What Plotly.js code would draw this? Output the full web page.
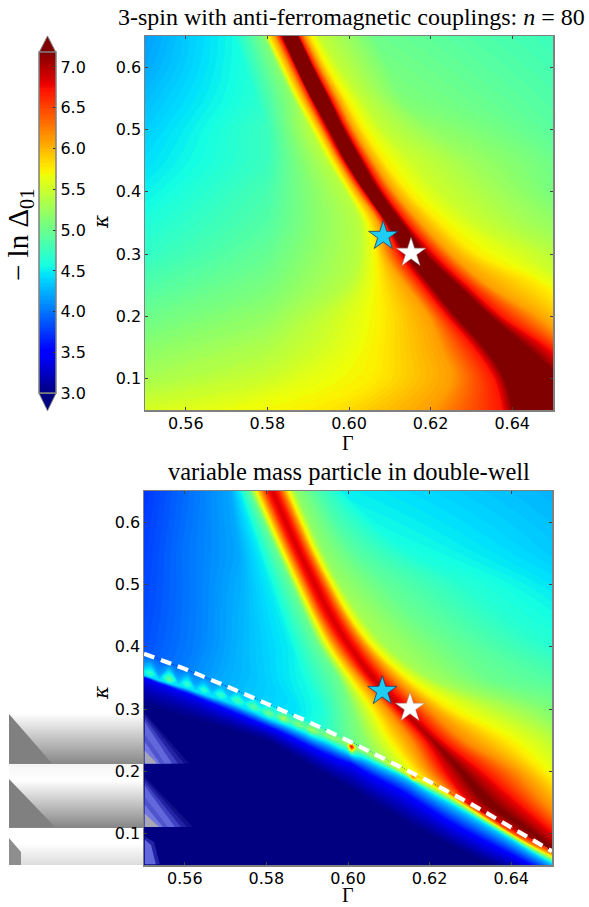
<!DOCTYPE html>
<html><head><meta charset="utf-8">
<script src="https://cdn.plot.ly/plotly-3.0.1.min.js"></script>
<style>html,body{margin:0;padding:0;background:#fff}#g{width:589px;height:907px}</style>
</head><body><div id="g"></div>
<script>
// ---------- data ----------
const zRange = [3, 7.18];
const colorbarTicks = [3, 3.5, 4, 4.5, 5, 5.5, 6, 6.5, 7];
const xTicks = [0.56, 0.58, 0.60, 0.62, 0.64];
const yTicks = [0.1, 0.2, 0.3, 0.4, 0.5, 0.6];
const starBlue = {gamma: 0.6084, kappa: 0.329};
const starWhite = {gamma: 0.6152, kappa: 0.302};

// top panel: each row holds the Gamma position of a colour feature and its value
const topKappa = [0.651,0.6,0.55,0.5,0.45,0.4,0.35,0.3,0.25,0.2,0.15,0.1,0.049];
const topGamma = [
 [.549,.5716,.579,.5803,.5817,.5831,.5838,.5873,.5877,.5891,.5905,.5928,.6066,.651],
 [.549,.5745,.5826,.5840,.5854,.5868,.5873,.5909,.5915,.5930,.5945,.5975,.6100,.651],
 [.549,.5770,.5862,.5877,.5891,.5905,.5910,.5948,.5955,.5972,.5990,.6030,.6130,.651],
 [.549,.5800,.5905,.5919,.5932,.5944,.5954,.5985,.5994,.6011,.6034,.6085,.6200,.651],
 [.549,.5800,.5945,.5960,.5973,.5986,.5993,.6028,.6038,.6058,.6085,.6150,.6300,.651],
 [.549,.5800,.5992,.6005,.6020,.6035,.6042,.6072,.6085,.6110,.6145,.6220,.6350,.651],
 [.549,.5800,.6025,.6050,.6072,.6088,.6094,.6128,.6142,.6175,.6225,.6310,.6430,.651],
 [.549,.5800,.6025,.6068,.6090,.6125,.6143,.6183,.6210,.6250,.6315,.6420,.6490,.6510],
 [.549,.5800,.6000,.6076,.6140,.6180,.6204,.6262,.6290,.6340,.6470,.6560,.6600,.6640],
 [.549,.5800,.5940,.6083,.6195,.6240,.6267,.6342,.6375,.6463,.6560,.6650,.6700,.6750],
 [.549,.5800,.5950,.6075,.6225,.6305,.6337,.6428,.6490,.6560,.6640,.6700,.6750,.6800],
 [.549,.5800,.5900,.6059,.6250,.6355,.6386,.6520,.6580,.6680,.6720,.6760,.6800,.6840],
 [.549,.5700,.5850,.5950,.6200,.6375,.6407,.6700,.6780,.6820,.6860,.6900,.6940,.6980]
];
const topZ = [
 [4.15,4.55,5.1,5.75,6.1,6.7,7.25,7.25,6.7,6.1,5.75,5.45,5.0,4.75],
 [4.2,4.6,5.15,5.75,6.1,6.7,7.25,7.25,6.7,6.1,5.75,5.45,5.05,4.8],
 [4.28,4.65,5.2,5.75,6.1,6.7,7.25,7.25,6.7,6.1,5.75,5.45,5.1,4.85],
 [4.35,4.75,5.4,5.75,6.1,6.7,7.25,7.25,6.7,6.1,5.75,5.45,5.2,4.9],
 [4.42,4.75,5.4,5.75,6.1,6.7,7.25,7.25,6.7,6.1,5.75,5.5,5.25,5.0],
 [4.5,4.82,5.4,5.75,6.1,6.7,7.25,7.25,6.7,6.1,5.75,5.5,5.3,5.05],
 [4.6,4.88,5.4,5.75,6.1,6.7,7.25,7.25,6.7,6.1,5.75,5.5,5.3,5.2],
 [4.7,4.97,5.4,5.75,6.1,6.7,7.25,7.25,6.7,6.1,5.75,5.55,5.42,5.4],
 [4.85,5.07,5.4,5.75,6.1,6.7,7.25,7.25,6.7,6.1,5.75,5.45,5.3,5.2],
 [5.0,5.2,5.45,5.75,6.1,6.7,7.25,7.25,6.7,6.1,5.75,5.45,5.3,5.2],
 [5.15,5.35,5.55,5.75,6.1,6.7,7.25,7.25,6.7,6.1,5.75,5.45,5.3,5.2],
 [5.3,5.5,5.62,5.75,6.1,6.7,7.25,7.25,6.7,6.1,5.75,5.45,5.3,5.2],
 [5.55,5.66,5.72,5.78,6.1,6.7,7.25,7.25,6.7,6.1,5.75,5.45,5.3,5.2]
];

// bottom panel, upper field
const botKappa = [0.651,0.6,0.55,0.5,0.45,0.4,0.35,0.3,0.25,0.2,0.15,0.1,0.049];
const botGamma = [
 [.549,.560,.5711,.5735,.5760,.5776,.5788,.5802,.5814,.5826,.5841,.5852,.5870,.5924,.5988,.651],
 [.549,.560,.5720,.5760,.5794,.5810,.5822,.5836,.5848,.5860,.5875,.5886,.5904,.5970,.6060,.651],
 [.549,.560,.5730,.5785,.5828,.5844,.5856,.5870,.5882,.5894,.5909,.5920,.5940,.6020,.6150,.651],
 [.549,.562,.5740,.5810,.5862,.5879,.5892,.5906,.5919,.5932,.5948,.5960,.5980,.6090,.6280,.651],
 [.549,.563,.5748,.5835,.5895,.5915,.5928,.5944,.5958,.5972,.5990,.6003,.6030,.6150,.6380,.651],
 [.549,.563,.5755,.5860,.5930,.5955,.5972,.5992,.6005,.6020,.6042,.6060,.6095,.6250,.6500,.6510],
 [.549,.568,.5790,.5890,.5975,.6007,.6030,.6048,.6062,.6080,.6110,.6142,.6200,.6340,.6520,.6530],
 [.549,.570,.5870,.5935,.6010,.6062,.6098,.6118,.6132,.6155,.6195,.6250,.6365,.6450,.6500,.6530],
 [.549,.570,.5900,.5960,.6040,.6107,.6156,.6187,.6207,.6232,.6282,.6389,.6488,.6520,.6540,.6560],
 [.549,.575,.5950,.6050,.6110,.6166,.6201,.6234,.6278,.6332,.6405,.6479,.6540,.6560,.6580,.6600],
 [.549,.580,.6000,.6100,.6200,.6250,.6285,.6300,.6345,.6414,.6479,.6560,.6600,.6620,.6640,.6660],
 [.549,.580,.6000,.6100,.6200,.6300,.6370,.6400,.6455,.6510,.6560,.6640,.6680,.6700,.6720,.6740],
 [.549,.580,.6000,.6100,.6200,.6300,.6400,.6450,.6550,.6600,.6650,.6700,.6750,.6800,.6850,.6900]
];
const botZ = [
 [3.72,3.95,4.2,4.5,5.0,5.75,6.2,6.7,6.85,6.7,6.2,5.75,5.2,4.85,4.5,4.25],
 [3.74,3.97,4.2,4.5,5.0,5.75,6.2,6.7,6.85,6.7,6.2,5.75,5.2,4.85,4.55,4.3],
 [3.76,3.99,4.2,4.5,5.0,5.75,6.2,6.7,6.85,6.7,6.2,5.75,5.2,4.9,4.6,4.35],
 [3.78,4.02,4.25,4.5,5.0,5.75,6.2,6.7,6.85,6.7,6.2,5.75,5.25,4.95,4.65,4.45],
 [3.8,4.04,4.28,4.5,5.0,5.75,6.2,6.7,6.85,6.7,6.2,5.75,5.3,5.0,4.65,4.55],
 [3.83,4.05,4.3,4.5,5.0,5.75,6.2,6.7,6.85,6.7,6.2,5.75,5.3,5.0,4.65,4.65],
 [3.88,4.2,4.35,4.55,5.0,5.75,6.2,6.7,6.9,6.7,6.2,5.75,5.3,5.0,4.85,4.85],
 [4.1,4.3,4.45,4.6,5.1,5.75,6.2,6.7,6.95,6.7,6.2,5.75,5.4,5.2,5.1,5.05],
 [4.2,4.4,4.6,4.75,5.15,5.75,6.2,6.7,7.05,6.7,6.2,5.75,5.45,5.35,5.3,5.3],
 [4.3,4.5,4.7,4.9,5.3,5.75,6.2,6.7,7.2,6.7,6.2,5.75,5.5,5.4,5.3,5.3],
 [4.5,4.7,5.0,5.2,5.5,5.8,6.3,6.8,7.25,6.75,6.2,5.75,5.5,5.4,5.3,5.3],
 [4.5,4.7,5.0,5.2,5.5,5.9,6.4,6.8,7.2,6.7,6.2,5.75,5.5,5.4,5.3,5.3],
 [4.5,4.7,5.0,5.2,5.5,5.9,6.4,6.8,7.2,6.7,6.2,5.75,5.5,5.4,5.3,5.3]
];

// bottom panel, the shelf below the dashed curve, read column by column
const bandGamma = [.549,.5515,.5538,.5562,.5584,.5606,.5626,.5647,.5667,.5688,.5708,.5729,.5748,.5768,.5786,.5805,.5823,.5841,.5860,.5878,.5895,.5911,.5933,.5956,.5980,.5998,.6009,.6020,.6035,.6075,.6120,.6148,.6159,.6170,.6200,.6250,.6307,.6350,.6400,.6450,.6511];
const bandTopKappa = [.3915,.3853,.3797,.3738,.3685,.3630,.3576,.3519,.3464,.3407,.3351,.3292,.3238,.3181,.3130,.3076,.3025,.2974,.2920,.2869,.2820,.2772,.2703,.2632,.2557,.2502,.2467,.2430,.2382,.2252,.2104,.2010,.1973,.1935,.1836,.1660,.1459,.1298,.1110,.0915,.0681];
const bandCrestKappa = [.3630,.3575,.3525,.3479,.3440,.3399,.3353,.3307,.3267,.3227,.3182,.3136,.3087,.3039,.2986,.2933,.2893,.2853,.2805,.2757,.2712,.2666,.2612,.2558,.2480,.2430,.2397,.2365,.2320,.2190,.2045,.1945,.1900,.1860,.1760,.1590,.1382,.1220,.1030,.0835,.0610];
const bandEdgeKappa = [.3570,.3515,.3465,.3415,.3375,.3335,.3285,.3240,.3197,.3155,.3108,.3060,.3008,.2957,.2902,.2848,.2803,.2760,.2710,.2660,.2612,.2560,.2505,.2445,.2365,.2315,.2265,.2240,.2220,.2100,.1970,.1880,.1836,.1790,.1670,.1490,.1276,.1110,.0915,.0715,.0490];
const bandBlueKappa = [.3520,.3468,.3400,.3350,.3290,.3240,.3190,.3130,.3075,.3020,.2965,.2905,.2855,.2800,.2750,.2700,.2650,.2595,.2535,.2475,.2420,.2365,.2295,.2230,.2165,.2125,.2104,.2060,.1995,.1850,.1700,.1590,.1543,.1495,.1370,.1160,.0955,.0810,.0650,.0480,.0300];
const bandNavyKappa = [.3090,.3040,.2995,.2950,.2905,.2865,.2825,.2785,.2745,.2705,.2670,.2630,.2590,.2555,.2520,.2480,.2410,.2340,.2270,.2200,.2135,.2075,.1990,.1905,.1815,.1745,.1703,.1660,.1600,.1440,.1270,.1155,.1114,.1075,.0980,.0810,.0633,.0510,.0400,.0270,.0100];
const bandTopZ = [3.85,3.9,3.92,3.95,3.97,4.0,4.02,4.05,4.1,4.15,4.2,4.25,4.3,4.35,4.4,4.45,4.5,4.55,4.6,4.65,4.7,4.75,4.85,4.95,5.05,5.08,5.1,5.13,5.2,5.35,5.5,5.8,6.0,6.0,6.0,6.4,7.1,7.15,7.0,6.8,6.5];
const bandCrestZ = [4.3,4.75,4.25,5.0,4.3,4.75,4.3,4.7,4.35,4.75,4.4,4.85,4.5,4.95,4.6,5.05,4.75,5.35,4.85,5.15,4.95,5.3,5.0,5.2,5.1,5.2,6.9,5.2,5.1,5.2,5.4,5.5,6.2,5.5,5.4,5.5,5.9,6.2,6.4,6.2,5.8];
const bandEdgeValue = 4.45, bandBlueValue = 3.46, bandNavyValue = 3.0, bandFloorKappa = 0.0;

const dashGamma = [.55,.56,.57,.58,.59,.60,.61,.62,.63,.64,.65];
const dashKappa = [.389,.3646,.3374,.3091,.2806,.2495,.2171,.1836,.1485,.111,.072];

// scan-like grey strips at the lower left of the picture (pixel rows / grey level)
const stripRow = [693,713,763.6,764.4,780,827,827.6,843,865];
const stripGrey = [1,1,0.05,0.92,1,0.05,1,1,0.72];
const stripWedges = [
 {x:[9,9,52],y:[714,763.6,763.6],c:'#808080'},
 {x:[9,9,55],y:[779,827,827],c:'#808080'},
 {x:[9,9,16,21,21],y:[838,865,865,865,852],c:'#8e8e8e'}
];
const ghostWedges = [
 {x:[144,144,189],y:[712,763.6,763.6],c:'#10108c'},
 {x:[144,144,184],y:[714,763.6,763.6],c:'#2222a4'},
 {x:[144,144,178],y:[717,763.6,763.6],c:'#3f42c0'},
 {x:[144,144,172],y:[721,763.6,763.6],c:'#6268dc'},
 {x:[144,144,165],y:[733,763.6,763.6],c:'#4f54cc'},
 {x:[144,144,160],y:[741,763.6,763.6],c:'#7278e0'},
 {x:[144,144,157],y:[750,763.6,763.6],c:'#a8a8b4'},
 {x:[144,144,193],y:[776,827,827],c:'#10108c'},
 {x:[144,144,187],y:[778,827,827],c:'#2222a4'},
 {x:[144,144,181],y:[781,827,827],c:'#3f42c0'},
 {x:[144,144,175],y:[785,827,827],c:'#6268dc'},
 {x:[144,144,168],y:[796,827,827],c:'#4f54cc'},
 {x:[144,144,163],y:[804,827,827],c:'#7278e0'},
 {x:[144,144,159],y:[813,827,827],c:'#a8a8b4'},
 {x:[144,144,160,154],y:[836,865,865,842],c:'#2222a4'},
 {x:[144,144,156,151],y:[839,865,865,845],c:'#6268dc'}
];

const jet = [[0,'rgb(0,0,128)'],[.11,'rgb(0,0,255)'],[.125,'rgb(0,0,255)'],[.34,'rgb(0,219,255)'],[.35,'rgb(0,230,247)'],[.375,'rgb(21,255,226)'],[.64,'rgb(238,255,8)'],[.65,'rgb(247,246,0)'],[.66,'rgb(255,237,0)'],[.89,'rgb(255,19,0)'],[.91,'rgb(232,0,0)'],[1,'rgb(128,0,0)']];

// ---------- page geometry ----------
const W = 589, H = 907;
const px = v => v / W, py = v => 1 - v / H;
const idx = a => a.map((_, i) => i);
const hiddenAxis = s => ({showticklabels:'none', showgrid:false, showline:false, startline:false, endline:false, minorgridcount:0, gridwidth:0, linewidth:0, smoothing:s});
const levels = {start:3.015, end:7.175, size:0.03, coloring:'fill', showlines:false};

function field(id, xa, ya, xs, ys, zs, scale) {
  return [
   {type:'carpet', carpet:id, a:idx(xs[0]), b:idx(xs), x:xs, y:ys, xaxis:xa, yaxis:ya, aaxis:hiddenAxis(0), baxis:hiddenAxis(1)},
   Object.assign({type:'contourcarpet', carpet:id, a:idx(xs[0]), b:idx(xs), z:zs, zmin:zRange[0], zmax:zRange[1], autocontour:false, contours:levels, line:{width:0}, colorscale:jet, showscale:!!scale, xaxis:xa, yaxis:ya, hoverinfo:'skip'}, scale ? {colorbar:scale} : {})
  ];
}
const bar = {x:px(39), xanchor:'left', y:py(393.3), yanchor:'bottom', thickness:17, thicknessmode:'pixels', len:340.6, lenmode:'pixels', xpad:0, ypad:0, tickmode:'array', tickvals:colorbarTicks, ticktext:colorbarTicks.map(v=>v.toFixed(1)), ticks:'inside', ticklen:3, tickcolor:'#333', outlinecolor:'#808080', outlinewidth:1.5, tickfont:{family:'DejaVu Sans', size:16, color:'#000'}};

const topY = topKappa.map((k,i)=>topGamma[i].map(()=>k));
const botY = botKappa.map((k,i)=>botGamma[i].map(()=>k));
const bandX = [bandGamma,bandGamma,bandGamma,bandGamma,bandGamma,bandGamma];
const bandY = [bandTopKappa,bandCrestKappa,bandEdgeKappa,bandBlueKappa,bandNavyKappa,bandGamma.map(()=>bandFloorKappa)];
const bandZ = [bandTopZ,bandCrestZ,bandGamma.map(()=>bandEdgeValue),bandGamma.map(()=>bandBlueValue),bandGamma.map(()=>bandNavyValue),bandGamma.map(()=>bandNavyValue)];

const stars = (xa,ya)=>[
 {type:'scatter',mode:'markers',x:[starBlue.gamma],y:[starBlue.kappa],xaxis:xa,yaxis:ya,marker:{symbol:'star',size:22,color:'#1fcdf2',line:{color:'#1d3f66',width:0.8}},hoverinfo:'skip'},
 {type:'scatter',mode:'markers',x:[starWhite.gamma],y:[starWhite.kappa],xaxis:xa,yaxis:ya,marker:{symbol:'star',size:22,color:'#ffffff',line:{color:'#999',width:0.5}},hoverinfo:'skip'}
];
const wedge = (w,xa,ya)=>({type:'scatter',mode:'lines',x:w.x.concat(w.x[0]),y:w.y.concat(w.y[0]),fill:'toself',fillcolor:w.c,line:{width:0},xaxis:xa,yaxis:ya,hoverinfo:'skip'});

const traces = [
 {type:'heatmap',x:[9,144],y:stripRow,z:stripGrey.map(v=>[v,v]),zmin:0,zmax:1,zsmooth:'best',colorscale:[[0,'#808080'],[1,'#ffffff']],showscale:false,xaxis:'x',yaxis:'y',hoverinfo:'skip'},
 ...stripWedges.map(w=>wedge(w,'x','y')),
 ...field('top','x2','y2',topGamma,topY,topZ,bar),
 ...stars('x2','y2'),
 ...field('bot','x3','y3',botGamma,botY,botZ,null),
 ...field('band','x3','y3',bandX,bandY,bandZ,null),
 {type:'scatter',mode:'lines',x:dashGamma,y:dashKappa,xaxis:'x3',yaxis:'y3',line:{color:'#fff',width:4.2,dash:'11px,7px'},hoverinfo:'skip'},
 ...stars('x3','y3'),
 ...ghostWedges.map(w=>wedge(w,'x4','y4'))
];

const xBase = {range:[.55,.65], tickmode:'array', tickvals:xTicks, ticktext:xTicks.map(v=>v.toFixed(2)), ticks:'inside', ticklen:3, tickcolor:'#444', showline:true, mirror:'ticks', linecolor:'#808080', linewidth:1.5, showgrid:false, zeroline:false, ticklabelstandoff:-2, tickfont:{family:'DejaVu Sans',size:16,color:'#000'}};
const yBase = {range:[.05,.65], tickmode:'array', tickvals:yTicks, ticktext:yTicks.map(v=>v.toFixed(1)), ticks:'inside', ticklen:3, tickcolor:'#444', showline:true, mirror:'ticks', linecolor:'#808080', linewidth:1.5, showgrid:false, zeroline:false, ticklabelstandoff:-1, tickfont:{family:'DejaVu Sans',size:16,color:'#000'}};
const off = {visible:false, fixedrange:true};
const note = (x,y,text,size,extra)=>Object.assign({xref:'paper',yref:'paper',x:px(x),y:py(y),text,showarrow:false,xanchor:'center',yanchor:'middle',font:{family:'Liberation Serif',size,color:'#000'}},extra||{});
const kappaNote = (x,y)=>note(x,y,'<i>κ</i>',23,{textangle:-90,font:{family:'DejaVu Serif',size:20,color:'#000'}});
const tri = (pts,c)=>({type:'path',xref:'paper',yref:'paper',path:'M'+pts.map(p=>px(p[0])+','+py(p[1])).join('L')+'Z',fillcolor:c,line:{color:'#808080',width:1}});

const layout = {
 width:W, height:H, margin:{l:0,r:0,t:0,b:0,pad:0}, paper_bgcolor:'#fff', plot_bgcolor:'rgba(0,0,0,0)', showlegend:false, hovermode:false,
 xaxis:Object.assign({},off,{domain:[px(9),px(144)],range:[9,144],anchor:'y'}),
 yaxis:Object.assign({},off,{domain:[py(865),py(693)],range:[865,693],anchor:'x'}),
 xaxis2:Object.assign({},xBase,{domain:[px(145),px(553)],anchor:'y2'}),
 yaxis2:Object.assign({},yBase,{domain:[py(410),py(36)],anchor:'x2'}),
 xaxis3:Object.assign({},xBase,{domain:[px(144),px(552)],anchor:'y3'}),
 yaxis3:Object.assign({},yBase,{domain:[py(865),py(491)],anchor:'x3'}),
 xaxis4:Object.assign({},off,{domain:[px(144.8),px(240)],range:[144.8,240],anchor:'y4'}),
 yaxis4:Object.assign({},off,{domain:[py(864.2),py(693)],range:[864.2,693],anchor:'x4'}),
 shapes:[tri([[39,52.7],[47.5,36],[56,52.7]],'#800000'),tri([[39,393.3],[47.5,410.7],[56,393.3]],'#000080')],
 annotations:[
  note(351,17,'3-spin with anti-ferromagnetic couplings: <i>n</i> = 80',24),
  note(349,471.5,'variable mass particle in double-well',24.5),
  note(20,235,'− ln Δ<sub>01</sub>',29,{textangle:-90}),
  note(348,443,'Γ',20), note(348,895,'Γ',20),
  kappaNote(101,222), kappaNote(101,693)
 ]
};
Plotly.newPlot('g',traces,layout,{staticPlot:true,displayModeBar:false});
</script></body></html>
